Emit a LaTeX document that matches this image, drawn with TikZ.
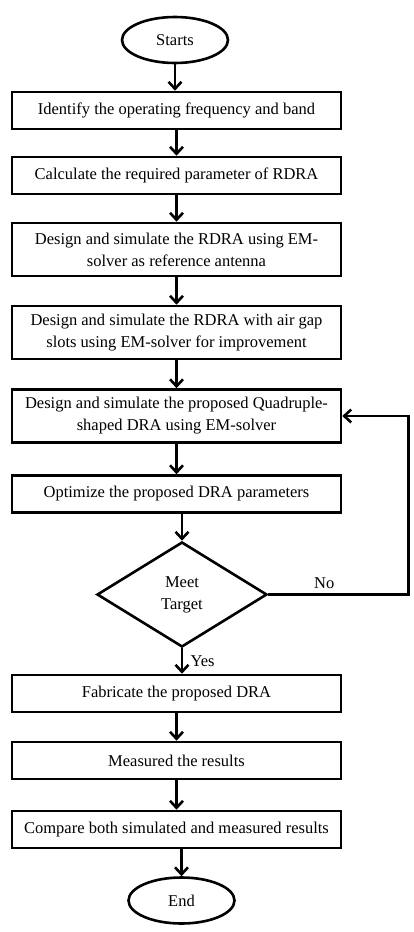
\documentclass[tikz,border=0pt]{standalone}
\usepackage{fontspec}
\setmainfont{Liberation Serif}
\usetikzlibrary{shapes.geometric,arrows.meta}

\begin{document}
\begin{tikzpicture}
			[x=1pt,y=-1pt,line width=2.6pt,
			%Styles
			every node/.style={font=\fontsize{16.5}{22}\selectfont},
			process/.style={rectangle,draw,minimum width=329pt,minimum height=37pt,align=center,inner sep=2pt},
			twoline/.style={process,minimum height=53pt},
			terminal/.style={ellipse,draw,minimum width=106pt,minimum height=46pt,inner sep=0pt},
			decision/.style={diamond,draw,minimum width=170pt,minimum height=105pt,inner sep=0pt,align=center},
			flow/.style={-{Straight Barb[length=7pt,width=13pt]}}
			]
			\useasboundingbox (0,0) rectangle (413,932);
			
			%The graphic
			\node[terminal] (start) at (175, 40) {Starts};
			\node[process] (b1) at (176.5, 110.5) {Identify the operating frequency and band};
			\node[process] (b2) at (176.5, 175.5) {Calculate the required parameter of RDRA};
			\node[twoline] (b3) at (176.5, 249.5) {Design and simulate the RDRA using EM-\\solver as reference antenna};
			\node[twoline] (b4) at (176.5, 332.5) {Design and simulate the RDRA with air gap\\slots using EM-solver for improvement};
			\node[twoline] (b5) at (176.5, 416) {Design and simulate the proposed Quadruple-\\shaped DRA using EM-solver};
			\node[process] (b6) at (176.5, 494) {Optimize the proposed DRA parameters};
			\node[decision] (dec) at (182, 594.5) {Meet\\Target};
			\node[process] (b7) at (176.5, 693.5) {Fabricate the proposed DRA};
			\node[process] (b8) at (176.5, 760.5) {Measured the results};
			\node[process] (b9) at (176.5, 829.5) {Compare both simulated and measured results};
			\node[terminal] (end) at (181.5, 900.5) {End};
			
			%Arrows
			\draw[flow] (start) -- (start |- b1.north);
			\draw[flow] (b1) -- (b2);
			\draw[flow] (b2) -- (b3);
			\draw[flow] (b3) -- (b4);
			\draw[flow] (b4) -- (b5);
			\draw[flow] (b5) -- (b6);
			\draw[flow] (b6.south -| dec) -- (dec.north);
			\draw[flow] (dec.south) -- node[right,xshift=4pt] {Yes} (dec.south |- b7.north);
			\draw[flow] (b7) -- (b8);
			\draw[flow] (b8) -- (b9);
			\draw[flow] (b9.south -| end) -- (end.north);
			\draw[flow] (dec.east) -- node[above,xshift=-14pt,yshift=1pt] {No} ++(140,0) |- (b5.east);
		\end{tikzpicture}
\end{document}
